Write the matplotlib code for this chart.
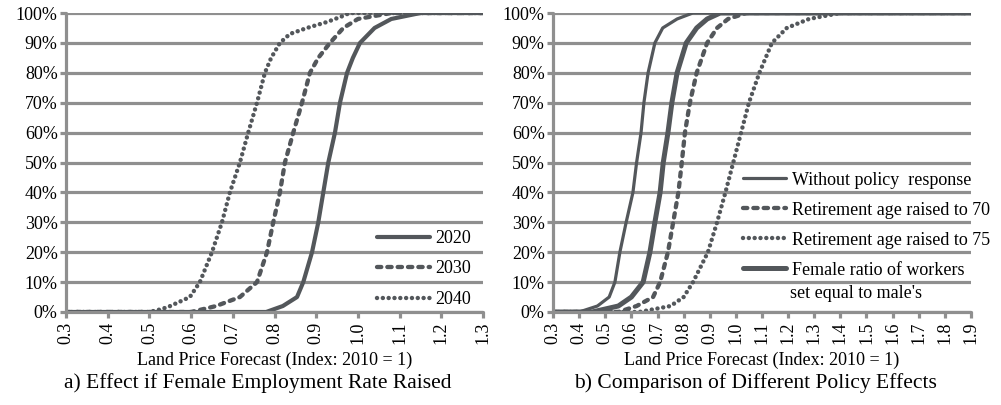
import matplotlib
matplotlib.use("Agg")
import matplotlib.pyplot as plt
from matplotlib.ticker import MultipleLocator, PercentFormatter

plt.rcParams['font.family'] = ['Liberation Serif', 'DejaVu Serif']

# cumulative share (%) at each land price index value
# panel a) female employment rate raised
pct_2020 = [0, 0, 2, 5, 10, 20, 30, 40, 50, 60, 70, 80, 85, 90, 95, 98, 100, 100]
x_2020 = [0.3, 0.78, 0.82, 0.854, 0.869, 0.89, 0.905, 0.917, 0.929, 0.945,
          0.957, 0.974, 0.988, 1.005, 1.04, 1.08, 1.15, 1.3]
pct_2030 = [0, 0, 2, 5, 10, 20, 30, 40, 50, 60, 70, 80, 85, 90, 95, 98, 100, 100]
x_2030 = [0.3, 0.6, 0.66, 0.717, 0.758, 0.782, 0.797, 0.813, 0.825, 0.845,
          0.866, 0.885, 0.905, 0.933, 0.965, 1.0, 1.08, 1.3]
pct_2040 = [0, 0, 1, 2, 5, 10, 20, 30, 40, 50, 60, 70, 80, 85, 90, 93, 95, 97, 99, 100, 100]
x_2040 = [0.3, 0.5, 0.53, 0.55, 0.597, 0.621, 0.65, 0.674, 0.693, 0.717, 0.737,
          0.758, 0.777, 0.792, 0.813, 0.837, 0.878, 0.926, 0.964, 0.98, 1.3]

# panel b) comparison of policies
pct_b = [0, 0, 2, 5, 10, 20, 30, 40, 50, 60, 70, 80, 90, 95, 98, 100, 100]
x_base = [0.3, 0.4, 0.47, 0.515, 0.537, 0.556, 0.58, 0.606, 0.62, 0.637,
          0.648, 0.664, 0.69, 0.72, 0.775, 0.835, 1.9]
x_ret70 = [0.3, 0.55, 0.62, 0.683, 0.71, 0.74, 0.76, 0.78, 0.793, 0.805,
           0.824, 0.85, 0.89, 0.928, 0.97, 1.04, 1.9]
x_ret75 = [0.3, 0.63, 0.75, 0.80, 0.836, 0.893, 0.928, 0.96, 0.99, 1.02,
           1.05, 1.09, 1.138, 1.195, 1.28, 1.40, 1.9]
x_female = [0.3, 0.45, 0.55, 0.6, 0.645, 0.671, 0.69, 0.71, 0.722, 0.74,
            0.755, 0.775, 0.81, 0.85, 0.89, 0.94, 1.9]

xlabel = "Land Price Forecast (Index: 2010 = 1)"
caption_a = "a) Effect if Female Employment Rate Raised"
caption_b = "b) Comparison of Different Policy Effects"

LINE = "#53575b"
GRID = "#8f8f8f"
FS = 13

fig = plt.figure(figsize=(10.01, 4.05), dpi=100)
ax_a = fig.add_axes([66 / 1001, 1 - 312 / 405, 417 / 1001, 299 / 405])
ax_b = fig.add_axes([553 / 1001, 1 - 312 / 405, 418 / 1001, 299 / 405])


def style_axes(ax, xmax):
    ax.set_xlim(0.3, xmax)
    ax.set_ylim(0, 100)
    ax.xaxis.set_major_locator(MultipleLocator(0.1))
    ax.yaxis.set_major_locator(MultipleLocator(10))
    ax.yaxis.set_major_formatter(PercentFormatter(decimals=0))
    ax.xaxis.set_major_formatter(lambda v, p: f"{v:.1f}")
    ax.grid(axis='y', color=GRID, lw=2.3, zorder=0)
    ax.set_axisbelow(True)
    for s in ('top', 'right'):
        ax.spines[s].set_visible(False)
    for s in ('left', 'bottom'):
        ax.spines[s].set_color(GRID)
        ax.spines[s].set_linewidth(2.3)
        ax.spines[s].set_capstyle('round')
    ax.tick_params(axis='x', length=4, width=2.3, color=GRID, labelsize=FS,
                   labelrotation=90, pad=3)
    ax.tick_params(axis='y', length=4, width=2.3, color=GRID, labelsize=FS, pad=2)
    ax.set_xlabel(xlabel, fontsize=FS, labelpad=5)


style_axes(ax_a, 1.3)
style_axes(ax_b, 1.9)

cap_kw = dict(dash_capstyle='round', solid_capstyle='round')

ax_a.plot(x_2020, pct_2020, color=LINE, lw=3.0, label="2020", **cap_kw)
ax_a.plot(x_2030, pct_2030, color=LINE, lw=3.1, dashes=(1.0, 1.4), label="2030", **cap_kw)
ax_a.plot(x_2040, pct_2040, color=LINE, lw=3.2, dashes=(0.01, 1.3), label="2040", **cap_kw)

ax_a.legend(loc='upper left', bbox_to_anchor=(0.725, 0.305), frameon=False,
            fontsize=FS, handlelength=2.9, handletextpad=0.3, borderpad=0,
            labelspacing=0.75)

ax_b.plot(x_base, pct_b, color=LINE, lw=2.3, label="Without policy  response", **cap_kw)
ax_b.plot(x_ret70, pct_b, color=LINE, lw=3.1, dashes=(1.0, 1.4),
          label="Retirement age raised to 70", **cap_kw)
ax_b.plot(x_ret75, pct_b, color=LINE, lw=3.2, dashes=(0.01, 1.3),
          label="Retirement age raised to 75", **cap_kw)
ax_b.plot(x_female, pct_b, color=LINE, lw=3.6, label="Female ratio of workers", **cap_kw)

ax_b.legend(loc='upper left', bbox_to_anchor=(0.433, 0.5), frameon=False,
            fontsize=FS, handlelength=2.4, handletextpad=0.3, borderpad=0,
            labelspacing=0.72)
fig.text(790 / 1001, 1 - 293 / 405, "set equal to male's", fontsize=FS,
         va='center', ha='left')

fig.text(258 / 1001, 1 - 383 / 405, caption_a, fontsize=15.5, ha='center', va='center')
fig.text(755 / 1001, 1 - 383 / 405, caption_b, fontsize=15.5, ha='center', va='center')

fig.savefig("out.png", dpi=100, facecolor='white')
